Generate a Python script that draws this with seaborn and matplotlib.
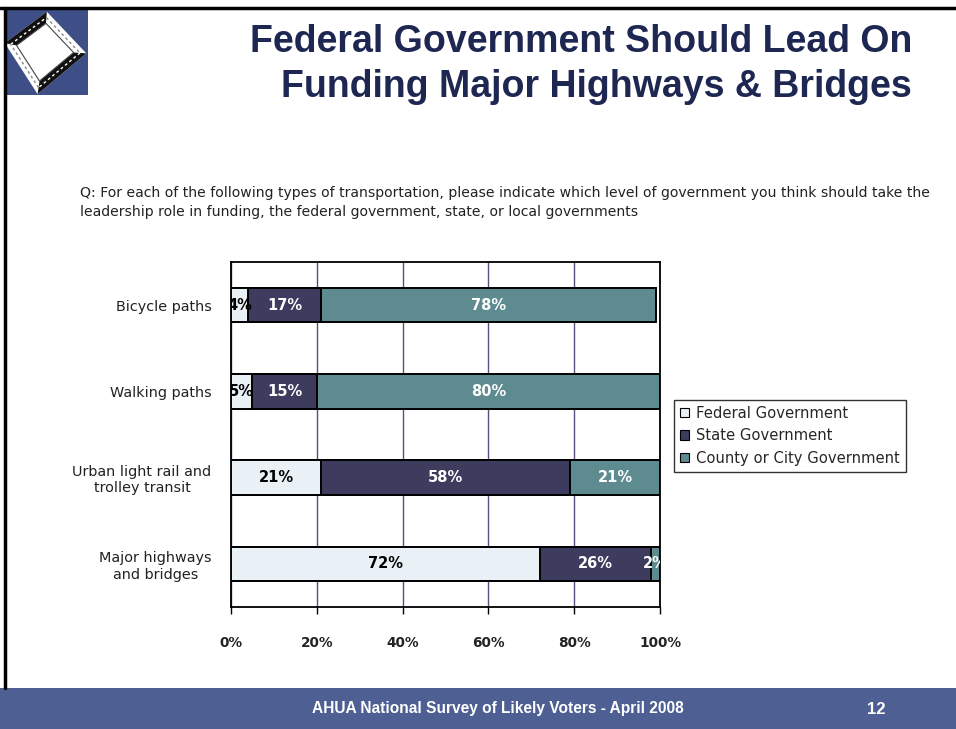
import matplotlib
matplotlib.use("Agg")
import matplotlib.pyplot as plt
import matplotlib.patches as mpatches
from matplotlib.lines import Line2D
import numpy as np
import pandas as pd
import seaborn as sns

# Survey results (percent of respondents)
categories = ["Bicycle paths", "Walking paths",
              "Urban light rail and\ntrolley transit", "Major highways\nand bridges"]
federal = [4, 5, 21, 72]
state = [17, 15, 58, 26]
county = [78, 80, 21, 2]
series_names = ["Federal Government", "State Government", "County or City Government"]
x_ticks = [0, 20, 40, 60, 80, 100]

col_fed = "#e9f1f6"
col_state = "#3d3b5e"
col_county = "#5d8b90"
navy = "#1d2752"

sns.set_style("white")
plt.rcParams["font.family"] = ["DejaVu Sans"]
ARIAL = ["Liberation Sans", "DejaVu Sans"]

df = pd.DataFrame({"category": categories, "federal": federal,
                   "state": state, "county": county})
df["fed_state"] = df["federal"] + df["state"]
df["total"] = df["fed_state"] + df["county"]

fig = plt.figure(figsize=(9.56, 7.29), dpi=100)
fig.patch.set_facecolor("white")

ax = fig.add_axes([231 / 956, 1 - 607 / 729, 429 / 956, 345 / 729])

# Stacked horizontal bars: draw cumulative totals from the back forward
bar_w = 0.4
for col, color in [("total", col_county), ("fed_state", col_state), ("federal", col_fed)]:
    sns.barplot(data=df, x=col, y="category", orient="h", color=color,
                width=bar_w, edgecolor="black", linewidth=1.4, ax=ax,
                saturation=1, zorder=3)

# Segment value labels
for i in range(len(categories)):
    segs = [(0, federal[i], "black"),
            (federal[i], state[i], "white"),
            (federal[i] + state[i], county[i], "white")]
    for start, val, tc in segs:
        ax.text(start + val / 2, i, f"{val}%", ha="center", va="center",
                color=tc, fontsize=10.5, fontweight="bold", zorder=5, clip_on=True)

ax.set_xlim(0, 100)
ax.set_ylim(3.5, -0.5)
ax.set_xticks(x_ticks)
ax.set_xticklabels([f"{t}%" for t in x_ticks], fontsize=9.8, fontweight="bold",
                   color="#222222")
ax.set_yticks(range(len(categories)))
ax.set_yticklabels(categories, fontsize=10.4, color="#222222")
ax.set_yticks(np.arange(-0.5, 4, 1), minor=True)
ax.tick_params(axis="y", which="major", length=0, pad=14)
ax.tick_params(axis="y", which="minor", length=5, width=1, direction="out", color="black")
ax.tick_params(axis="x", which="major", length=5, width=1, direction="out",
               color="black", pad=16, bottom=True)
ax.set_xlabel("")
ax.set_ylabel("")
ax.xaxis.grid(True, color="#5a4d7e", linewidth=1, zorder=0)
ax.yaxis.grid(False)
ax.set_axisbelow(True)
for sp in ax.spines.values():
    sp.set_visible(True)
    sp.set_color("black")
    sp.set_linewidth(1.3)
for lab in ax.get_yticklabels():
    lab.set_multialignment("center")

# Legend
handles = [mpatches.Patch(facecolor=c, edgecolor="black", linewidth=0.8)
           for c in (col_fed, col_state, col_county)]
leg = fig.legend(handles, series_names, loc="upper left",
                 bbox_to_anchor=(674 / 956, 1 - 400 / 729), fontsize=10.6,
                 frameon=True, fancybox=False, edgecolor="black",
                 handlelength=0.6, handleheight=0.6, handletextpad=0.5,
                 borderpad=0.4, labelspacing=0.5, borderaxespad=0)
leg.get_frame().set_linewidth(1.0)

# Title and question
fig.text(912 / 956, 1 - 42 / 729, "Federal Government Should Lead On",
         ha="right", va="center", fontsize=27, fontweight="bold", color=navy,
         family=ARIAL)
fig.text(912 / 956, 1 - 87 / 729, "Funding Major Highways & Bridges",
         ha="right", va="center", fontsize=27, fontweight="bold", color=navy,
         family=ARIAL)
fig.text(80 / 956, 1 - 202.5 / 729,
         "Q: For each of the following types of transportation, please indicate which "
         "level of government you think should take the\nleadership role in funding, "
         "the federal government, state, or local governments",
         ha="left", va="center", fontsize=10.1, color="#222222", linespacing=1.4)

# Footer band
fig.patches.append(mpatches.Rectangle((0, 0), 1, 41 / 729, transform=fig.transFigure,
                                      facecolor="#4d5f93", edgecolor="none", zorder=0))
fig.text(498 / 956, 21 / 729, "AHUA National Survey of Likely Voters - April 2008",
         ha="center", va="center", fontsize=11.2, fontweight="bold", color="white",
         family=ARIAL)
fig.text(876 / 956, 20 / 729, "12", ha="center", va="center", fontsize=12,
         fontweight="bold", color="white", family=ARIAL)

# Slide frame lines
fig.lines.append(Line2D([0, 1], [1 - 8 / 729, 1 - 8 / 729], transform=fig.transFigure,
                        color="black", linewidth=2.5))
fig.lines.append(Line2D([5 / 956, 5 / 956], [41 / 729, 1 - 8 / 729],
                        transform=fig.transFigure, color="black", linewidth=2.5))

# Logo: tilted road diamond on a blue square
lax = fig.add_axes([4 / 956, 1 - 95 / 729, 84 / 956, 85 / 729])
lax.set_xlim(0, 1)
lax.set_ylim(0, 1)
lax.axis("off")
lax.add_patch(mpatches.Rectangle((0, 0), 1, 1, facecolor="#3d4f86", edgecolor="none"))
L = np.array([0.01, 0.61])
T = np.array([0.51, 0.98])
R = np.array([0.98, 0.49])
B = np.array([0.40, 0.01])
c = (L + T + R + B) / 4
shrink = 0.7
Li, Ti, Ri, Bi = [c + (p - c) * shrink for p in (L, T, R, B)]
lax.add_patch(mpatches.Polygon([L, T, R, B], closed=True, facecolor="white",
                               edgecolor="none"))
# dark road bands along the upper-left and lower-right edges
lax.add_patch(mpatches.Polygon([L, T, Ti, Li], closed=True, facecolor="#111111",
                               edgecolor="none"))
lax.add_patch(mpatches.Polygon([R, B, Bi, Ri], closed=True, facecolor="#111111",
                               edgecolor="none"))
lax.add_patch(mpatches.Polygon([Li, Ti, Ri, Bi], closed=True, facecolor="white",
                               edgecolor="#444444", linewidth=0.8))
for p0, p1, q0, q1, colr in [(L, T, Li, Ti, "white"), (R, B, Ri, Bi, "white"),
                             (T, R, Ti, Ri, "#888888"), (B, L, Bi, Li, "#888888")]:
    a = (p0 + q0) / 2
    b = (p1 + q1) / 2
    lax.plot([a[0], b[0]], [a[1], b[1]], color=colr, linewidth=1,
             linestyle=(0, (2, 2)))

fig.savefig("out.png", dpi=100, facecolor="white")
